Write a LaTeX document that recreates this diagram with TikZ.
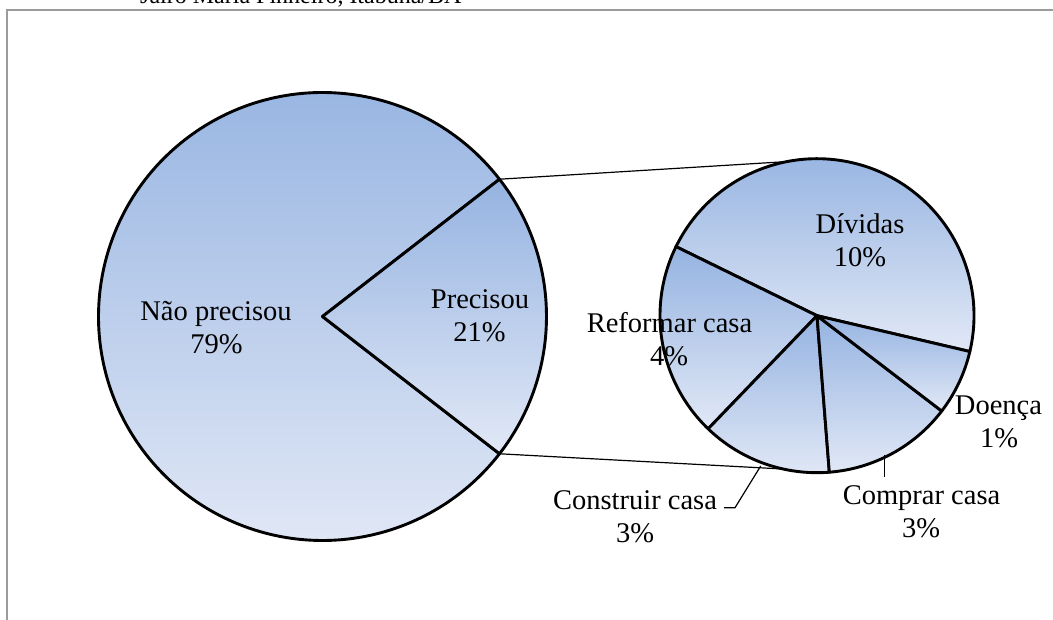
\documentclass[tikz,border=0pt]{standalone}
\usepackage{fontspec}
\setmainfont{Liberation Serif}
\definecolor{topc}{RGB}{149,179,225}
\definecolor{botc}{RGB}{225,232,246}
\definecolor{framec}{RGB}{155,155,155}
\begin{document}
\begin{tikzpicture}[x=1pt,y=1pt,
  slice/.style={draw=black,line width=2.9pt,line join=round,top color=topc,bottom color=botc},
  conn/.style={draw=black,line width=1.2pt},
  lbl/.style={font=\fontsize{28.5}{33}\selectfont,anchor=base,inner sep=0pt},
  toplbl/.style={font=\fontsize{24}{28}\selectfont,anchor=base west,inner sep=0pt},
  framel/.style={draw=framec,line width=2pt}]
\useasboundingbox (0,0) rectangle (1053,619);
% frame and clipped heading
\draw[framel] (7,-2) -- (7,608.5) -- (1056,608.5);
\node[toplbl] (head) at (140,615) {Jairo Maria Pinheiro, Itabuna/BA};
% big pie
\coordinate (bc) at (322.5,302.5);
\path[slice] (bc) -- ++(37.8:224) arc[start angle=37.8,end angle=322.2,radius=224] -- cycle;
\path[slice] (bc) -- ++(-37.8:224) arc[start angle=-37.8,end angle=37.8,radius=224] -- cycle;
\path (bc) ++(37.8:224) coordinate (bu);
\path (bc) ++(-37.8:224) coordinate (bl);
% small pie
\coordinate (sc) at (817,303.3);
\path[slice] (sc) -- ++(-13.2:157) arc[start angle=-13.2,end angle=153.9,radius=157] -- cycle;
\path[slice] (sc) -- ++(153.9:157) arc[start angle=153.9,end angle=226.1,radius=157] -- cycle;
\path[slice] (sc) -- ++(226.1:157) arc[start angle=226.1,end angle=274.5,radius=157] -- cycle;
\path[slice] (sc) -- ++(274.5:157) arc[start angle=274.5,end angle=322.6,radius=157] -- cycle;
\path[slice] (sc) -- ++(322.6:157) arc[start angle=322.6,end angle=346.8,radius=157] -- cycle;
\path (sc) ++(101:157) coordinate (su);
\path (sc) ++(257.6:157) coordinate (sl);
% connectors
\draw[conn] (bu) -- (su);
\draw[conn] (bl) -- (sl);
% leader lines
\coordinate (cc1) at (724,111.3);
\coordinate (cc2) at (735,111.3);
\coordinate (cc3) at (760.7,153);
\draw[conn] (cc1) -- (cc2) -- (cc3);
\coordinate (cp1) at (884.3,164);
\coordinate (cp2) at (884.3,142.3);
\draw[conn] (cp1) -- (cp2);
% labels
\node[lbl] (nao1) at (216,298) {Não precisou};
\node[lbl] (nao2) at (216.5,265) {79\%};
\node[lbl] (pre1) at (480,310.7) {Precisou};
\node[lbl] (pre2) at (479.5,277.7) {21\%};
\node[lbl] (div1) at (860,385.7) {Dívidas};
\node[lbl] (div2) at (860,352.7) {10\%};
\node[lbl] (ref1) at (669.5,286) {Reformar casa};
\node[lbl] (ref2) at (669,253) {4\%};
\node[lbl] (doe1) at (998.5,204) {Doença};
\node[lbl] (doe2) at (999,171) {1\%};
\node[lbl] (con1) at (635,109) {Construir casa};
\node[lbl] (con2) at (635,76) {3\%};
\node[lbl] (com1) at (921.5,114) {Comprar casa};
\node[lbl] (com2) at (921,81) {3\%};
\end{tikzpicture}
\end{document}
